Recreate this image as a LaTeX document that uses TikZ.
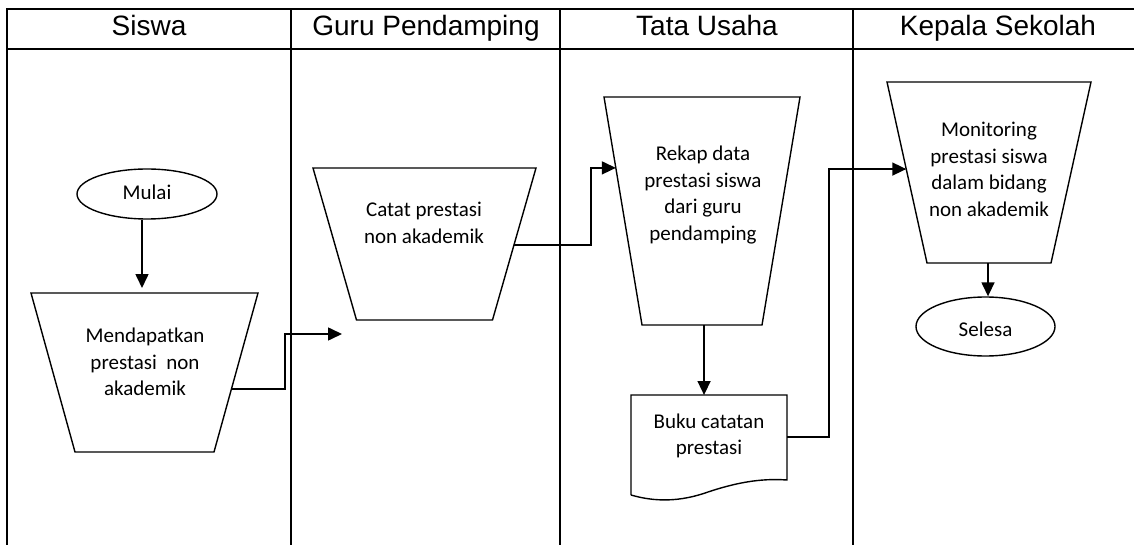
\documentclass[tikz,border=0pt]{standalone}
\usepackage{fontspec}
\setmainfont{Carlito}
\newfontfamily\headfont{Liberation Sans}
\usetikzlibrary{arrows.meta,shapes.geometric,calc}

% inverted trapezoid: name, top-left x, top-right x, top y, bottom y, inset of bottom corners
\newcommand\invtrap[6]{%
  \path (#2,#4) coordinate (#1 nw) (#3,#4) coordinate (#1 ne)
        ({#3-#6},#5) coordinate (#1 se) ({#2+#6},#5) coordinate (#1 sw);
  \draw[outline] (#1 nw) -- (#1 ne) -- (#1 se) -- (#1 sw) -- cycle;}

\begin{document}
\begin{tikzpicture}[x=1pt,y=-1pt,
  frame/.style={line width=2pt},
  outline/.style={line width=1.4pt, line join=miter},
  link/.style={line width=1.6pt},
  flow/.style={line width=1.6pt, -{Triangle[length=14pt,width=13pt]}},
  lanehead/.style={font=\headfont\fontsize{28}{32}\selectfont, inner sep=0, anchor=base},
  txt/.style={font=\fontsize{21}{26.5}\selectfont, align=center, inner sep=0},
  terminal/.style={draw, ellipse, line width=1.4pt, inner sep=0},
]
\useasboundingbox (0,0) rectangle (1134,545);

% swimlane frame
\draw[frame] (7,545) -- (7,9) -- (1140,9);
\draw[frame] (7,49) -- (1140,49);
\draw[frame] (291,9) -- (291,545);
\draw[frame] (560,9) -- (560,545);
\draw[frame] (853,9) -- (853,545);

% lane titles
\node[lanehead] (hsiswa) at (149,36) {Siswa};
\node[lanehead] (hguru)  at (426,36) {Guru Pendamping};
\node[lanehead] (htu)    at (707,36) {Tata Usaha};
\node[lanehead] (hkepsek) at (998,36) {Kepala Sekolah};

% start
\node[terminal, minimum width=140pt, minimum height=50pt] (mulai) at (147,194) {};
\begin{scope}
  \clip (90,170) rectangle (205,198.5);
  \node[txt, anchor=base] (tmulai) at (147,200) {Mulai};
\end{scope}

% processes
\invtrap{m}{31}{258}{293}{452}{44}
\node[txt] (tm) at (145,362) {Mendapatkan\\prestasi\ \ non\\akademik};

\invtrap{c}{313}{536}{168}{320}{43.5}
\node[txt] (tc) at (424,223) {Catat prestasi\\non akademik};

\invtrap{r}{604}{800}{97}{325}{38}
\node[txt] (tr) at (703,195) {Rekap data\\prestasi siswa\\dari guru\\pendamping};

\invtrap{mo}{887}{1091}{82}{263}{40}
\node[txt] (tmo) at (989,169.5) {Monitoring\\prestasi siswa\\dalam bidang\\non akademik};

% document
\path (631,395) coordinate (b nw) (787,395) coordinate (b ne)
      (787,480) coordinate (b se) (631,495) coordinate (b sw);
\draw[outline] (b sw) -- (b nw) -- (b ne) -- (b se)
  .. controls (760,478) and (735,483) .. (708,492)
  .. controls (680,502) and (655,502) .. (b sw);
\node[txt] (tb) at (709,436) {Buku catatan\\prestasi};

% end
\node[terminal, minimum width=139pt, minimum height=59pt] (selesa) at (985.5,326.5) {};
\node[txt, anchor=base] (tselesa) at (985.5,336) {Selesa};

% connection points
\coordinate (m out) at ($(m ne)!0.604!(m se)$);
\coordinate (c out) at ($(c ne)!0.507!(c se)$);
\coordinate (r in)  at ($(r nw)!0.311!(r sw)$);
\coordinate (r out) at ($(r sw)!0.517!(r se)$);
\coordinate (b out) at ($(b ne)!0.494!(b se)$);
\coordinate (mo in) at ($(mo nw)!0.481!(mo sw)$);
\coordinate (mo out) at ($(mo sw)!0.492!(mo se)$);
\coordinate (c entry) at (342,334);

% flows
\draw[flow, shorten >=5pt] ([xshift=-5pt]mulai.south) -- ([xshift=-5pt]mulai.south |- m nw);
\draw[flow] (m out) -- ++(53.6,0) |- (c entry);
\draw[flow] (c out) -- ++(77,0) |- (r in);
\draw[flow] (r out) -- (r out |- b nw);
\draw[flow] (b out) -- ++(42,0) |- (mo in);
\draw[flow] (mo out) -- (mo out |- selesa.north);
\end{tikzpicture}
\end{document}
